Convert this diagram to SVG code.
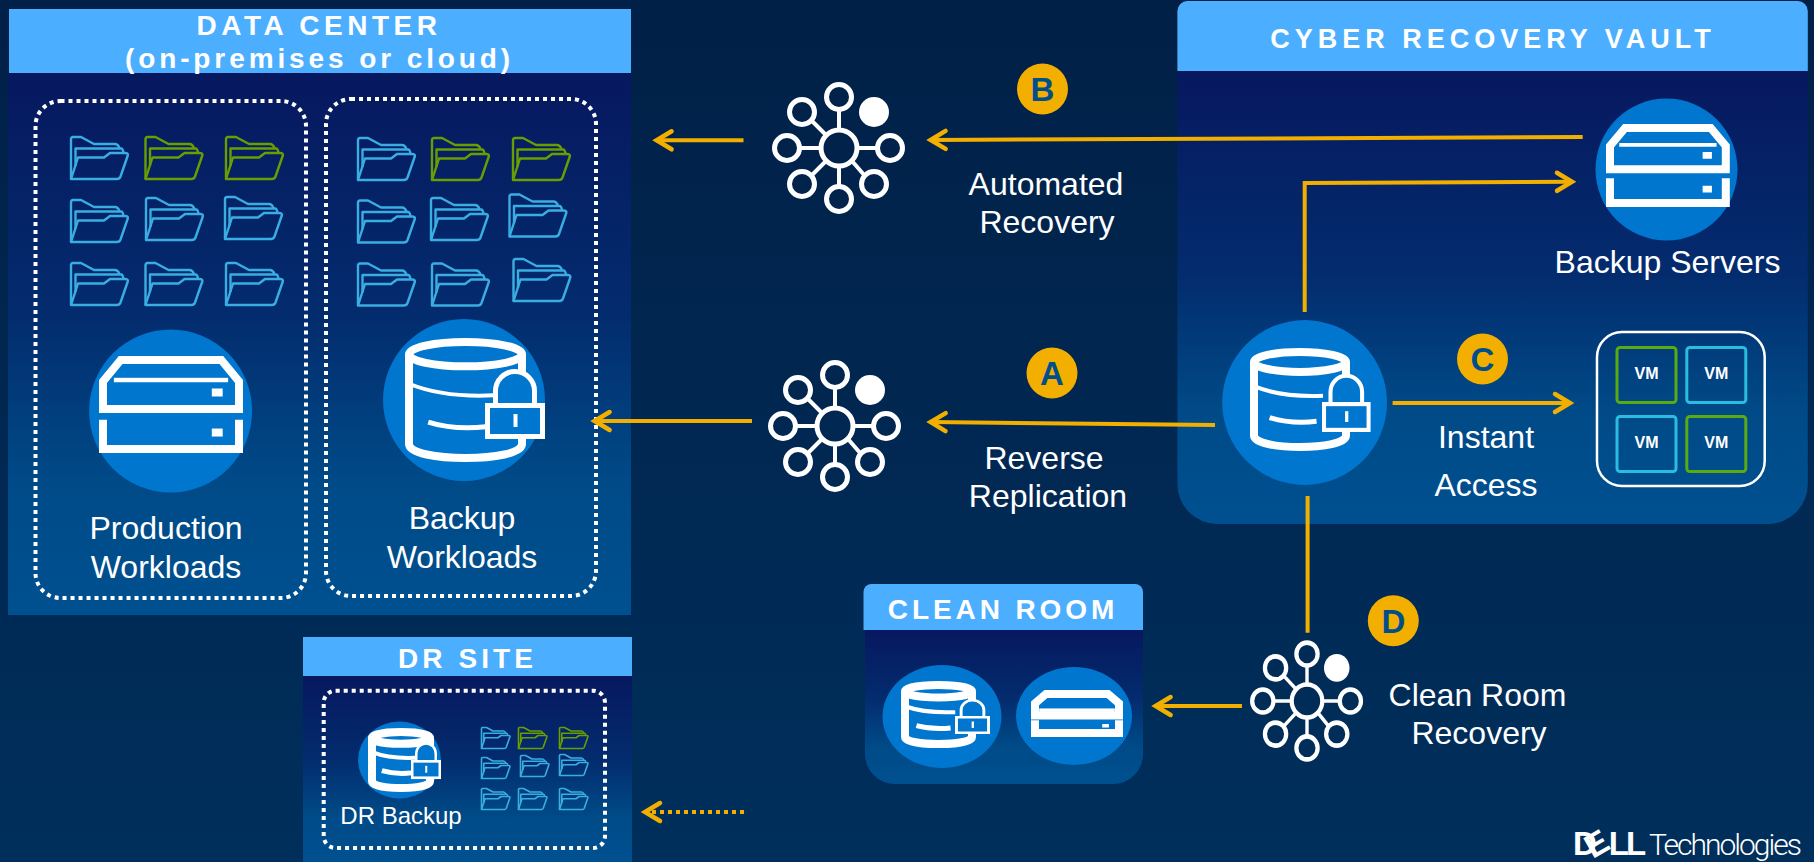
<svg xmlns="http://www.w3.org/2000/svg" width="1814" height="862" viewBox="0 0 1814 862">
<style>
text{font-family:"Liberation Sans",Arial,sans-serif;fill:#fff}
.lbl{font-size:32px;text-anchor:middle}
.hdr{font-size:28px;font-weight:700;text-anchor:middle}
.bdg{font-size:33px;font-weight:700;text-anchor:middle;fill:#004f8c}
.vm{font-size:16px;font-weight:700;text-anchor:middle}
.hd{fill:#4caeff}
.dot{fill:none;stroke:#fff;stroke-width:4;stroke-dasharray:4 4}
.c{fill:none;stroke:#f2af00;stroke-width:4;marker-end:url(#ah)}
.disc{fill:#0076ce}
.badge{fill:#f2af00}
.fb{color:#3aaee2;stroke-width:2.400}
.fg{color:#6a9e00;stroke-width:2.400}
.s use{stroke-width:3.200}
.ns{vector-effect:non-scaling-stroke}
</style>
<defs>
<linearGradient id="bg" x1="0" y1="0" x2="0" y2="1"><stop offset="0" stop-color="#012047"/><stop offset="1" stop-color="#002f5c"/></linearGradient>
<linearGradient id="pn" x1="0" y1="0" x2="0" y2="1"><stop offset="0" stop-color="#07185f"/><stop offset=".45" stop-color="#032c6e"/><stop offset=".75" stop-color="#004a87"/><stop offset="1" stop-color="#005090"/></linearGradient>
<marker id="ah" markerUnits="userSpaceOnUse" markerWidth="30" markerHeight="30" refX="25" refY="15" orient="auto"><path d="M10 6L25 15L10 24" fill="none" stroke="#f2af00" stroke-width="4.500" stroke-linecap="round"/></marker>
<g id="folder" fill="none" stroke="currentColor" stroke-linejoin="round">
<path d="M1 43V3Q1 1 3 1H11L24 8H45Q48 8 49.500 12"/>
<path d="M5.500 30V12.500H51Q53 12.500 53.500 17"/>
<path d="M1 43L8 21.500H34L40 17H55Q58.500 17 57.800 19.500L50.500 40.500Q49.500 43 47 43Z"/>
</g>
<g id="server-base" fill="none" stroke="#fff" stroke-width="8">
<path class="ns" d="M0 55V24L13 0H87L100 24V55Z"/>
<path class="ns" d="M0 67V100H100V67"/>
<rect x="80" y="77" width="8" height="9" fill="#fff" stroke="none"/>
</g>
<g id="server-top">
<rect x="8" y="20" width="84" height="5" fill="#fff"/>
<rect x="80" y="32" width="8" height="9" fill="#fff"/>
</g>
<g id="cyl" fill="none" stroke="#fff">
<ellipse class="ns" cx="50" cy="10.500" rx="50" ry="10.500" stroke-width="8"/>
<path class="ns" d="M0 10.500V88C0 96 25 100 50 100C75 100 100 96 100 88V10.500" stroke-width="8"/>
<path class="ns" d="M0 36Q30 48 75 46" stroke-width="4"/>
<path class="ns" d="M17 69Q40 76 68 73" stroke-width="5"/>
</g>
<g id="lock">
<path d="M10.500 2V-12A19.500 19.500 0 0 1 49.500 -12V2" fill="#0076ce" stroke="#fff" stroke-width="5"/>
<rect x="2.500" y="2.500" width="55" height="31" fill="#0076ce" stroke="#fff" stroke-width="5"/>
<rect x="28.500" y="11" width="4" height="13" fill="#fff"/>
</g>
<g id="hub" fill="none" stroke="#fff" stroke-width="5">
<path d="M-18 0H-40M18 0H39M0-18V-39M0 18V39M-13-13L-28-28M-13 13L-28 28M13 13L26 28" stroke-width="4"/>
<circle r="18"/>
<circle cx="-52" r="12.500"/><circle cx="51" r="12.500"/><circle cy="-51" r="12.500"/><circle cy="51" r="12.500"/>
<circle cx="-37" cy="-36" r="12.500"/><circle cx="-37" cy="36" r="12.500"/><circle cx="35" cy="36" r="12.500"/>
<circle cx="35" cy="-36" r="15" fill="#fff" stroke="none"/>
</g>
</defs>
<rect width="1814" height="862" fill="url(#bg)"/>

<g id="data-center">
<rect x="8" y="73" width="623" height="542" fill="url(#pn)"/>
<rect x="9" y="9" width="622" height="64" class="hd"/>
<text class="hdr" x="319" y="35" letter-spacing="4.500">DATA CENTER</text>
<text class="hdr" x="319.500" y="68" letter-spacing="3.900">(on-premises or cloud)</text>
</g>
<g id="production-workloads">
<rect x="35.500" y="101" width="270.500" height="497" rx="25" class="dot"/>
<use href="#folder" class="fb" x="70" y="136"/><use href="#folder" class="fg" x="144.500" y="136"/><use href="#folder" class="fg" x="225" y="136"/>
<use href="#folder" class="fb" x="70" y="199"/><use href="#folder" class="fb" x="145" y="197"/><use href="#folder" class="fb" x="224" y="196"/>
<use href="#folder" class="fb" x="70" y="262"/><use href="#folder" class="fb" x="144.500" y="262"/><use href="#folder" class="fb" x="225" y="262"/>
<circle cx="170.600" cy="411" r="81.500" class="disc"/>
<g transform="translate(103 360) scale(1.360 .89)"><use href="#server-base"/><use href="#server-top"/></g>
<text class="lbl" x="166" y="539">Production</text>
<text class="lbl" x="166" y="578">Workloads</text>
</g>
<g id="backup-workloads">
<rect x="326" y="99" width="270" height="497" rx="25" class="dot"/>
<use href="#folder" class="fb" x="357" y="137"/><use href="#folder" class="fg" x="431" y="137"/><use href="#folder" class="fg" x="512" y="137"/>
<use href="#folder" class="fb" x="357" y="199.500"/><use href="#folder" class="fb" x="430" y="197"/><use href="#folder" class="fb" x="508.500" y="193.500"/>
<use href="#folder" class="fb" x="357" y="262.500"/><use href="#folder" class="fb" x="431" y="262.500"/><use href="#folder" class="fb" x="512.500" y="258"/>
<circle cx="464" cy="400" r="81" class="disc"/>
<use href="#cyl" transform="translate(409 342) scale(1.130 1.160)"/>
<use href="#lock" x="485" y="403"/>
<text class="lbl" x="462" y="529">Backup</text>
<text class="lbl" x="462" y="568">Workloads</text>
</g>

<g id="dr-site">
<rect x="303" y="676" width="329" height="186" fill="url(#pn)"/>
<rect x="303" y="637" width="329" height="39" class="hd"/>
<text class="hdr" x="467.500" y="668" letter-spacing="4.100">DR SITE</text>
<rect x="323.700" y="690.700" width="281.300" height="157.300" rx="12" class="dot"/>
<ellipse cx="399.500" cy="760" rx="41.500" ry="38.500" class="disc"/>
<use href="#cyl" transform="translate(372 732) scale(.58 .56)"/>
<use href="#lock" transform="translate(411 760) scale(.5 .53)"/>
<text x="401" y="824" font-size="24" text-anchor="middle">DR Backup</text>
<g class="s">
<g transform="translate(481 727) scale(.5)"><use href="#folder" class="fb"/></g>
<g transform="translate(518 727) scale(.5)"><use href="#folder" class="fg"/></g>
<g transform="translate(559 727) scale(.5)"><use href="#folder" class="fg"/></g>
<g transform="translate(481 757) scale(.5)"><use href="#folder" class="fb"/></g>
<g transform="translate(520 755) scale(.5)"><use href="#folder" class="fb"/></g>
<g transform="translate(559 754) scale(.5)"><use href="#folder" class="fb"/></g>
<g transform="translate(481 788) scale(.5)"><use href="#folder" class="fb"/></g>
<g transform="translate(518 788) scale(.5)"><use href="#folder" class="fb"/></g>
<g transform="translate(559 788) scale(.5)"><use href="#folder" class="fb"/></g>
</g>
</g>

<g id="vault">
<path d="M1177.400 71H1807.800V484A40 40 0 0 1 1767.800 524H1217.400A40 40 0 0 1 1177.400 484Z" fill="url(#pn)"/>
<path d="M1177.400 71V11A10 10 0 0 1 1187.400 1H1797.800A10 10 0 0 1 1807.800 11V71Z" class="hd"/>
<text class="hdr" x="1493" y="48" letter-spacing="5" style="font-size:27px">CYBER RECOVERY VAULT</text>
</g>
<g id="backup-servers">
<circle cx="1666.500" cy="169.500" r="71" class="disc"/>
<g transform="translate(1610 128) scale(1.158 .75)"><use href="#server-base"/><use href="#server-top"/></g>
<text class="lbl" x="1667.500" y="273">Backup Servers</text>
</g>
<g id="vault-storage">
<circle cx="1304.600" cy="402.500" r="82.400" class="disc"/>
<use href="#cyl" transform="translate(1254 352) scale(.92 .95)"/>
<use href="#lock" transform="translate(1322 402) scale(.81 .833)"/>
</g>
<g id="vm-group">
<rect x="1597" y="332" width="167.700" height="154" rx="25" fill="none" stroke="#fff" stroke-width="2.500"/>
<g fill="none" stroke-width="3">
<rect x="1617" y="347.500" width="59" height="55" rx="3" stroke="#5aab12"/>
<rect x="1686.800" y="347.500" width="59" height="55" rx="3" stroke="#2bbde0"/>
<rect x="1617" y="416.500" width="59" height="55" rx="3" stroke="#2bbde0"/>
<rect x="1686.800" y="416.500" width="59" height="55" rx="3" stroke="#5aab12"/>
</g>
<text class="vm" x="1646.500" y="379">VM</text><text class="vm" x="1716.300" y="379">VM</text>
<text class="vm" x="1646.500" y="448">VM</text><text class="vm" x="1716.300" y="448">VM</text>
</g>

<g id="clean-room">
<path d="M865 630H1143V754A30 30 0 0 1 1113 784H895A30 30 0 0 1 865 754Z" fill="url(#pn)"/>
<path d="M863.500 630V592A8 8 0 0 1 871.500 584H1135A8 8 0 0 1 1143 592V630Z" class="hd"/>
<text class="hdr" x="1003" y="619" letter-spacing="3.900">CLEAN ROOM</text>
<ellipse cx="942" cy="716.500" rx="59.500" ry="51.500" class="disc"/>
<use href="#cyl" transform="translate(905 685) scale(.67 .59)"/>
<use href="#lock" transform="translate(955 716) scale(.583 .5)"/>
<ellipse cx="1074" cy="716" rx="58" ry="49" class="disc"/>
<g transform="translate(1035 694) scale(.84 .39)"><use href="#server-base"/><rect x="5" y="37" width="90" height="9" fill="#fff"/></g>
</g>

<g id="hub-b"><use href="#hub" x="839" y="148"/></g>
<g id="hub-a"><use href="#hub" x="835" y="426"/></g>
<g id="hub-d"><use href="#hub" transform="translate(1307 701) scale(.85 .92)"/></g>

<g id="connectors">
<path class="c" d="M1582.700 137L930.600 140"/>
<path class="c" d="M743.500 140.300H656.600"/>
<path class="c" d="M1304.700 312V183L1572 181.700"/>
<path class="c" d="M1215 425L930.600 422"/>
<path class="c" d="M752 421H594.600"/>
<path class="c" d="M1392.600 403H1570"/>
<path d="M1307.600 496V632.700" fill="none" stroke="#f2af00" stroke-width="4"/>
<path class="c" d="M1242 706H1155.600"/>
<path d="M744 812H652" fill="none" stroke="#f2af00" stroke-width="4" stroke-dasharray="4 4"/>
<path d="M660 803L645 812L660 821" fill="none" stroke="#f2af00" stroke-width="4.500" stroke-linecap="round"/>
</g>

<g id="badge-a"><circle cx="1052" cy="373" r="25.500" class="badge"/><text class="bdg" x="1052" y="385">A</text></g>
<g id="badge-b"><circle cx="1042.500" cy="89" r="25.500" class="badge"/><text class="bdg" x="1042.500" y="101">B</text></g>
<g id="badge-c"><circle cx="1482.500" cy="359" r="25.500" class="badge"/><text class="bdg" x="1482.500" y="371">C</text></g>
<g id="badge-d"><circle cx="1393.300" cy="620.700" r="25.500" class="badge"/><text class="bdg" x="1393.300" y="632.500">D</text></g>

<g id="labels">
<text class="lbl" x="1046" y="195">Automated</text>
<text class="lbl" x="1047" y="233">Recovery</text>
<text class="lbl" x="1044" y="469">Reverse</text>
<text class="lbl" x="1048" y="507">Replication</text>
<text class="lbl" x="1486" y="448">Instant</text>
<text class="lbl" x="1486" y="496">Access</text>
<text class="lbl" x="1477.500" y="706">Clean Room</text>
<text class="lbl" x="1479" y="744">Recovery</text>
</g>

<g id="logo">
<text x="1573" y="855" font-size="33" font-weight="700" rotate="0 -30 0 0" dx="0 -3 -5 -2" dy="0 4 -4 0" style="letter-spacing:-1px">DELL</text>
<text x="1649" y="855" font-size="30" font-weight="300" style="font-family:Roboto,sans-serif;letter-spacing:-2px">Technologies</text>
</g>
</svg>
